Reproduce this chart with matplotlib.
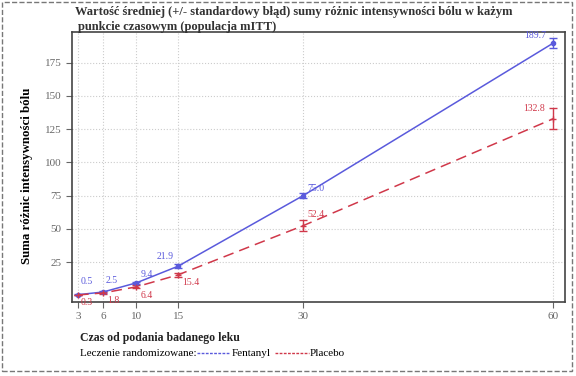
import matplotlib
matplotlib.use("Agg")
import matplotlib.pyplot as plt
from matplotlib.patches import Rectangle
from matplotlib.lines import Line2D

# data
czas = [3, 6, 10, 15, 30, 60]
fentanyl = [0.5, 2.5, 9.4, 21.9, 75.0, 189.7]
fentanyl_se = [0.3, 0.5, 1.0, 1.5, 2.0, 4.0]
placebo = [0.3, 1.8, 6.4, 15.4, 52.4, 132.8]
placebo_se = [0.3, 0.6, 1.2, 1.5, 4.0, 8.0]
yticks = [25, 50, 75, 100, 125, 150, 175]

# label offsets (points) for the value labels
f_off = [(2, 6), (2, 5), (3, 3), (-3, 4), (3, 2), (-5, 2)]
p_off = [(2, -2), (3, -2), (3, -3), (3, -2), (3, 5), (-6, 4)]

blue = '#5a5adc'
red = '#d0384a'
plt.rcParams['font.family'] = ['Liberation Serif', 'DejaVu Serif']

fig = plt.figure(figsize=(5.76, 3.76), dpi=100)
ax = fig.add_axes([72/576, 1 - 302/376, (565-72)/576, (302-32)/376])

ax.errorbar(czas, fentanyl, yerr=fentanyl_se, color=blue, lw=1.1, marker='o', ms=3,
            capsize=3, elinewidth=1, label='Fentanyl', zorder=3)
ax.errorbar(czas, placebo, yerr=placebo_se, color=red, lw=1.1, ls=(0, (7, 4)), marker='+', ms=4,
            capsize=3, elinewidth=1, label='Placebo', zorder=3)

for (x, y), (dx, dy) in zip(zip(czas, fentanyl), f_off):
    ax.annotate(f'{y:.1f}', (x, y), xytext=(dx, dy), textcoords='offset points',
                ha='left' if dx > 0 else 'right', va='bottom', fontsize=7, color=blue)
for (x, y), (dx, dy) in zip(zip(czas, placebo), p_off):
    ax.annotate(f'{y:.1f}', (x, y), xytext=(dx, dy), textcoords='offset points',
                ha='left' if dx > 0 else 'right', va='top' if dy < 0 else 'bottom',
                fontsize=7, color=red)

ax.set_xlim(2.28, 61.4)
ax.set_ylim(-5, 198)
ax.set_xticks(czas)
ax.set_yticks(yticks)
ax.tick_params(labelsize=8, colors='#666666', length=4)
ax.grid(True, ls=':', color='#cccccc', lw=0.8)
for s in ax.spines.values():
    s.set_color('#444444')
    s.set_linewidth(1.2)

# y label placed by hand, like in the original
fig.text(27/576, 1 - 176/376, 'Suma różnic intensywności bólu', fontsize=9.3, fontweight='bold',
         rotation=90, ha='center', va='center')

fig.text(75/576, 1 - 12/376, 'Wartość średniej (+/- standardowy błąd) sumy różnic intensywności bólu w każym',
         fontsize=9, fontweight='bold', color='#333333', va='center')
fig.text(78/576, 1 - 27/376, 'punkcie czasowym (populacja mITT)',
         fontsize=9, fontweight='bold', color='#333333', va='center')

fig.text(80/576, 1 - 338/376, 'Czas od podania badanego leku', fontsize=8.5, fontweight='bold',
         color='#222222', va='center')
fig.text(80/576, 1 - 353/376, 'Leczenie randomizowane:', fontsize=8, va='center')
fig.add_artist(Line2D([197/576, 229/576], [1 - 353/376] * 2, color=blue, lw=1, ls=(0, (2, 1))))
fig.text(232/576, 1 - 353/376, 'Fentanyl', fontsize=8, va='center')
fig.add_artist(Line2D([275/576, 309/576], [1 - 353/376] * 2, color=red, lw=1, ls=(0, (2, 1))))
fig.text(310/576, 1 - 353/376, 'Placebo', fontsize=8, va='center')

# outer frame
fig.add_artist(Rectangle((2/576, 5/376), 570/576, 369/376, transform=fig.transFigure,
                         fill=False, ls='--', color='#777777', lw=1))

fig.savefig('out.png', dpi=100)
